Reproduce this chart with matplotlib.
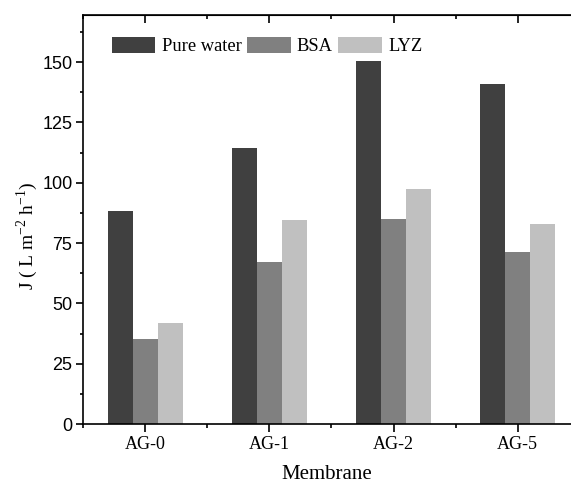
import numpy as np
import matplotlib.pyplot as plt
from matplotlib import font_manager
from matplotlib.ticker import MultipleLocator

plt.rcParams["mathtext.fontset"] = "custom"
plt.rcParams["mathtext.rm"] = "Liberation Serif"

### --- Data --- ###
membranes = ["AG-0", "AG-1", "AG-2", "AG-5"]
pure_water = [88.4, 114.2, 150.3, 140.9]
bsa = [35.2, 67.3, 84.9, 71.1]
lyz = [42.0, 84.7, 97.3, 82.9]

series = [("Pure water", pure_water, "#404040"),
          ("BSA", bsa, "#808080"),
          ("LYZ", lyz, "#c0c0c0")]

# narrow sans for the y tick labels if available
names = {f.name for f in font_manager.fontManager.ttflist}
ytick_font = "Liberation Sans Narrow" if "Liberation Sans Narrow" in names else "Liberation Sans"

fig = plt.figure(figsize=(5.71, 4.86), dpi=100)
ax = fig.add_axes([83.3 / 571, 62 / 486, 1 - 83.3 / 571, 409 / 486])

x = np.arange(len(membranes))
width = 0.2
for i, (name, vals, col) in enumerate(series):
    ax.bar(x + (i - 1) * width, vals, width, color=col, label=name, zorder=2)

ax.set_xlim(-0.5, 3.43)
ax.set_ylim(0, 169.5)
ax.set_xticks(x)
ax.set_xticklabels(membranes, family="Liberation Serif", fontsize=13)
ax.xaxis.set_minor_locator(MultipleLocator(0.5))
ax.yaxis.set_major_locator(MultipleLocator(25))
ax.yaxis.set_minor_locator(MultipleLocator(12.5))
for lab in ax.get_yticklabels():
    lab.set_family(ytick_font)
    lab.set_fontsize(14 if ytick_font.endswith("Narrow") else 13)

ax.tick_params(axis="both", which="both", direction="out", top=False, right=False,
               width=1.2)
ax.tick_params(axis="y", which="major", length=4.8, pad=3)
ax.tick_params(axis="y", which="minor", length=2.5)
ax.tick_params(axis="x", which="major", length=5.5, pad=3)
ax.tick_params(axis="x", which="minor", length=3)

# inward ticks along the top spine
top = ax.secondary_xaxis("top")
top.set_xticks(x)
top.xaxis.set_minor_locator(MultipleLocator(0.5))
top.tick_params(which="major", direction="in", length=6, width=1.2, labeltop=False)
top.tick_params(which="minor", direction="in", length=3, width=1.2)

for sp in ax.spines.values():
    sp.set_linewidth(1.2)
ax.spines["right"].set_visible(False)

ax.set_xlabel("Membrane", family="Liberation Serif", fontsize=15, labelpad=9)
ax.set_ylabel("J ( L m$^{-2}$ h$^{-1}$)", family="Liberation Serif", fontsize=14)
ax.yaxis.set_label_coords(-0.088, 0.46)

ax.legend(loc="upper left", bbox_to_anchor=(0.059, 0.947), ncol=3, frameon=False,
          prop={"family": "Liberation Serif", "size": 13.3},
          handlelength=2.35, handleheight=1.0, handletextpad=0.34,
          columnspacing=0.3, borderaxespad=0, borderpad=0)

fig.savefig("out.png", dpi=100)
